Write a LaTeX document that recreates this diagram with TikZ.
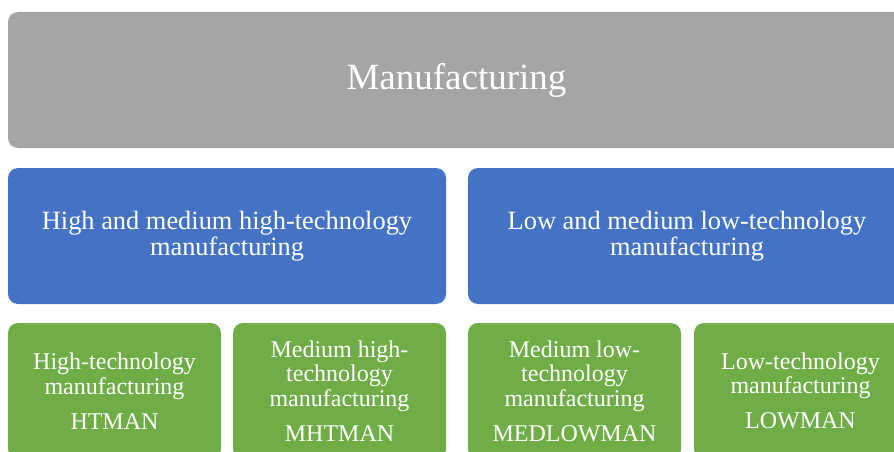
\documentclass[tikz,border=0pt]{standalone}
\usepackage{fontspec}
\setmainfont{Liberation Serif}
\definecolor{graybox}{HTML}{A5A5A5}
\definecolor{bluebox}{HTML}{4472C4}
\definecolor{greenbox}{HTML}{70AD47}
\begin{document}
\begin{tikzpicture}[x=1pt,y=-1pt,
  box/.style={rounded corners=10pt, inner sep=0pt, text=white, align=center, minimum height=136pt},
  topbox/.style={box, fill=graybox, minimum width=897pt, font=\fontsize{37}{40}\selectfont},
  midbox/.style={box, fill=bluebox, minimum width=438pt, font=\fontsize{26.4}{26}\selectfont},
  leafbox/.style={box, fill=greenbox, minimum width=213pt, font=\fontsize{24}{24.5}\selectfont}]
\useasboundingbox (0,0) rectangle (894,452);
\clip (0,0) rectangle (894,452);
\node[topbox] (top) at (456.5,80) {Manufacturing};
\node[midbox] (high) at (227,236) {High and medium high-technology\\manufacturing};
\node[midbox] (low) at (687,236) {Low and medium low-technology\\manufacturing};
\node[leafbox] (ht) at (114.5,391) {High-technology\\manufacturing\\[10.5pt]HTMAN};
\node[leafbox] (mht) at (339.5,391) {Medium high-\\technology\\manufacturing\\[10.5pt]MHTMAN};
\node[leafbox] (mlt) at (574.5,391) {Medium low-\\technology\\manufacturing\\[10.5pt]MEDLOWMAN};
\node[leafbox] (lt) at (800.5,391) {Low-technology\\manufacturing\\[10.5pt]LOWMAN};
\end{tikzpicture}
\end{document}
